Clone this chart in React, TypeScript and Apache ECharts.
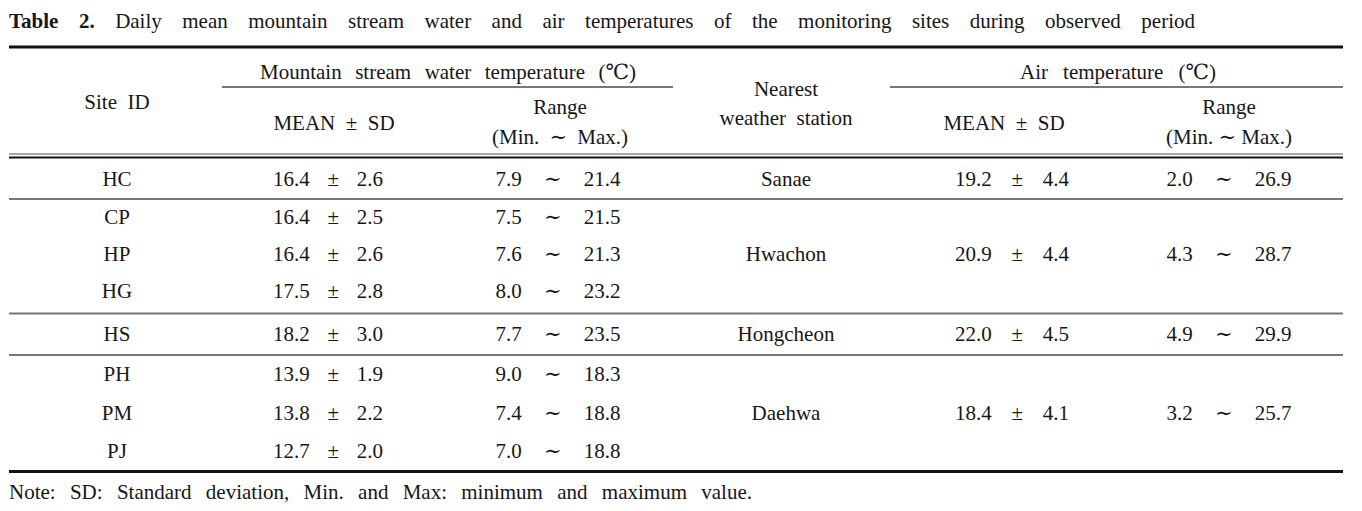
import React, { useEffect, useRef } from "react";
import * as echarts from "echarts";

// ---------- data ----------
const TITLE_BOLD = "Table 2.";
const TITLE_TEXT =
  "Daily mean mountain stream water and air temperatures of the monitoring sites during observed period";
const NOTE = "Note: SD: Standard deviation, Min. and Max: minimum and maximum value.";
const WATER_HEADER = "Mountain stream water temperature (℃)";
const AIR_HEADER = "Air temperature (℃)";
const SITE_HEADER = "Site ID";
const STATION_HEADER = ["Nearest", "weather station"];
const MEAN_HEADER = "MEAN ± SD";
const RANGE_HEADER = "Range";
const RANGE_SUB = "(Min. ∼ Max.)";
const TILDE = "∼";

const siteIds = ["HC", "CP", "HP", "HG", "HS", "PH", "PM", "PJ"];
const waterMean = [16.4, 16.4, 16.4, 17.5, 18.2, 13.9, 13.8, 12.7];
const waterSd = [2.6, 2.5, 2.6, 2.8, 3.0, 1.9, 2.2, 2.0];
const waterMin = [7.9, 7.5, 7.6, 8.0, 7.7, 9.0, 7.4, 7.0];
const waterMax = [21.4, 21.5, 21.3, 23.2, 23.5, 18.3, 18.8, 18.8];

const stations = ["Sanae", "Hwachon", "Hongcheon", "Daehwa"];
const stationSiteCount = [1, 3, 1, 3];
const airMean = [19.2, 20.9, 22.0, 18.4];
const airSd = [4.4, 4.4, 4.5, 4.1];
const airMin = [2.0, 4.3, 4.9, 3.2];
const airMax = [26.9, 28.7, 29.9, 25.7];

// ---------- layout ----------
const FONT = '"Liberation Serif", "Times New Roman", "DejaVu Serif", "Noto Sans CJK KR", serif';
const FS = 21;
const INK = "#161616";
const rowY = [179, 217, 254, 291, 334, 374, 413, 451];
const COL = { site: 117, wMean: 328, wRange: 558, station: 786, aMean: 1012, aRange: 1229 };
const LEFT = 9;
const RIGHT = 1343;

let ctx: CanvasRenderingContext2D | null = null;
function measure(t: string, size: number, weight: string) {
  if (!ctx) ctx = document.createElement("canvas").getContext("2d");
  ctx!.font = `${weight} ${size}px ${FONT}`;
  return ctx!.measureText(t).width;
}

type W = { t: string; w: string };
function textEl(t: string, x: number, y: number, weight = "normal", size = FS) {
  return {
    type: "text",
    x,
    y,
    silent: true,
    style: {
      text: t,
      fill: INK,
      fontSize: size,
      fontFamily: FONT,
      fontWeight: weight,
      align: "left",
      verticalAlign: "middle",
      textAlign: "left",
      textVerticalAlign: "middle",
    },
  };
}
function justify(words: W[], x0: number, x1: number, y: number, size = FS) {
  const ws = words.map((w) => measure(w.t, size, w.w));
  const sum = ws.reduce((a, b) => a + b, 0);
  const gap = words.length > 1 ? (x1 - x0 - sum) / (words.length - 1) : 0;
  let x = x0;
  const els: any[] = [];
  words.forEach((w, i) => {
    els.push(textEl(w.t, x, y, w.w, size));
    x += ws[i] + gap;
  });
  return els;
}
function centered(text: string, cx: number, y: number, gapEm = 0.5, size = FS) {
  const words = text.split(" ").map((t) => ({ t, w: "normal" }));
  const ws = words.map((w) => measure(w.t, size, w.w));
  const total = ws.reduce((a, b) => a + b, 0) + gapEm * size * (words.length - 1);
  return justify(words, cx - total / 2, cx + total / 2, y, size);
}
function centeredWidth(text: string, cx: number, width: number, y: number, size = FS) {
  const words = text.split(" ").map((t) => ({ t, w: "normal" }));
  return justify(words, cx - width / 2, cx + width / 2, y, size);
}
function hline(x1: number, x2: number, y: number, w: number, color: string) {
  return {
    type: "line",
    silent: true,
    shape: { x1, y1: y, x2, y2: y },
    style: { stroke: color, lineWidth: w },
  };
}
const f1 = (v: number) => v.toFixed(1);

function buildGraphic() {
  const els: any[] = [];
  // title
  const titleWords: W[] = [
    ...TITLE_BOLD.split(" ").map((t) => ({ t, w: "bold" })),
    ...TITLE_TEXT.split(" ").map((t) => ({ t, w: "normal" })),
  ];
  els.push(...justify(titleWords, 9, 1195, 21));
  // lines
  els.push(hline(LEFT, RIGHT, 47, 3, "#111"));
  els.push(hline(222, 673, 87, 2, "#777"));
  els.push(hline(890, RIGHT, 87, 2, "#777"));
  els.push(hline(LEFT, RIGHT, 154, 1.5, "#888"));
  els.push(hline(LEFT, RIGHT, 157.5, 2, "#111"));
  els.push(hline(LEFT, RIGHT, 471.5, 3, "#111"));
  // headers
  els.push(...centeredWidth(WATER_HEADER, 448, 376, 72));
  els.push(...centeredWidth(AIR_HEADER, 1118, 196, 72));
  els.push(...centered(SITE_HEADER, COL.site, 102));
  els.push(...centered(STATION_HEADER[0], 786, 89));
  els.push(...centered(STATION_HEADER[1], 786, 118));
  els.push(...centered(MEAN_HEADER, 334, 123));
  els.push(...centered(MEAN_HEADER, 1004, 123));
  els.push(...centered(RANGE_HEADER, 560, 107));
  els.push(...centeredWidth(RANGE_SUB, 560, 136, 137));
  els.push(...centered(RANGE_HEADER, 1229, 107));
  els.push(...centeredWidth(RANGE_SUB, 1229, 126, 137));
  // body rows
  siteIds.forEach((id, i) => {
    const y = rowY[i];
    els.push(...centered(id, COL.site, y));
    els.push(...centeredWidth(`${f1(waterMean[i])} ± ${f1(waterSd[i])}`, COL.wMean, 110, y));
    els.push(...centeredWidth(`${f1(waterMin[i])} ${TILDE} ${f1(waterMax[i])}`, COL.wRange, 125, y));
  });
  // station groups
  let start = 0;
  stations.forEach((st, g) => {
    const n = stationSiteCount[g];
    const y = (rowY[start] + rowY[start + n - 1]) / 2;
    els.push(...centered(st, COL.station, y));
    els.push(...centeredWidth(`${f1(airMean[g])} ± ${f1(airSd[g])}`, COL.aMean, 114, y));
    els.push(...centeredWidth(`${f1(airMin[g])} ${TILDE} ${f1(airMax[g])}`, COL.aRange, 125, y));
    start += n;
    if (g < stations.length - 1) {
      const sepY = (rowY[start - 1] + rowY[start]) / 2 + 1;
      els.push(hline(LEFT, RIGHT, sepY, 2, "#777"));
    }
  });
  // note
  els.push(...justify(NOTE.split(" ").map((t) => ({ t, w: "normal" })), 9, 752, 492));
  return els;
}

export default function App() {
  const ref = useRef<HTMLDivElement>(null);
  useEffect(() => {
    document.body.style.margin = "0";
    const chart = echarts.init(ref.current!, null, { renderer: "svg" });
    chart.setOption({
      animation: false,
      backgroundColor: "#ffffff",
      graphic: { elements: buildGraphic() },
    });
    return () => chart.dispose();
  }, []);
  return <div ref={ref} style={{ width: 1362, height: 511, position: "absolute", left: 0, top: 0 }} />;
}
